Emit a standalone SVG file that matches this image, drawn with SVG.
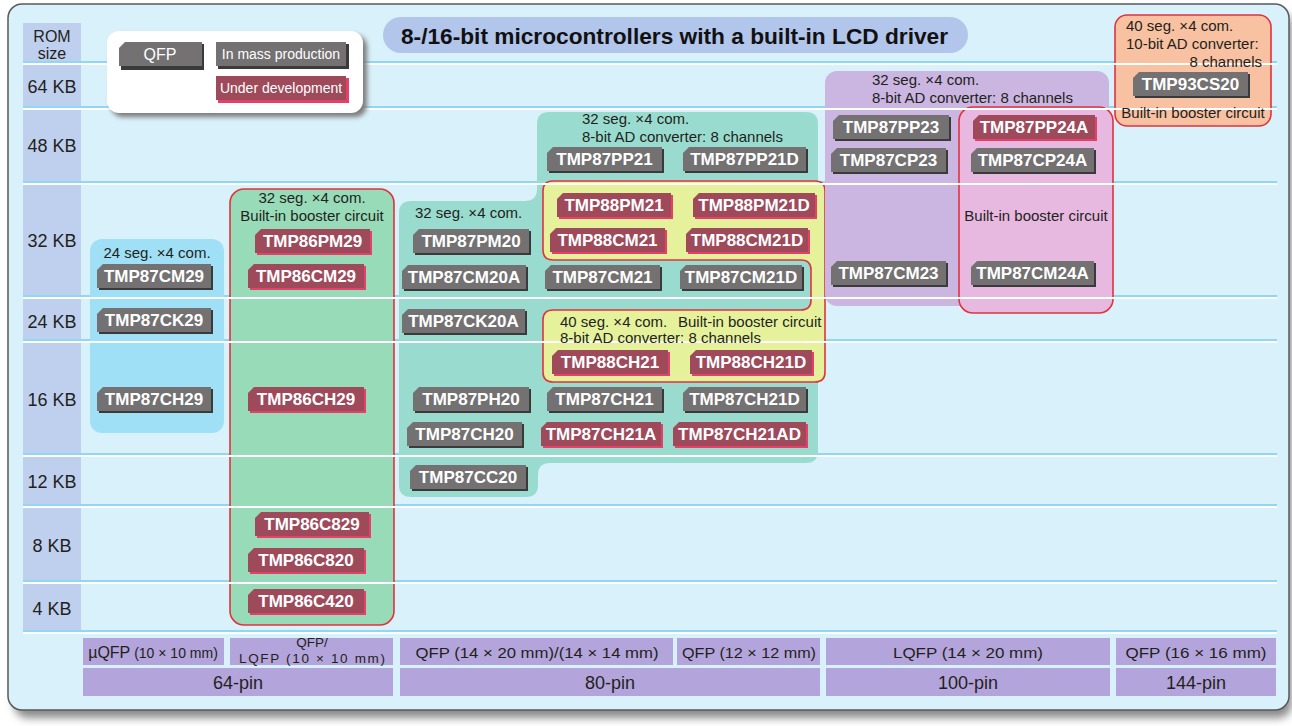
<svg xmlns="http://www.w3.org/2000/svg" width="1292" height="726" viewBox="0 0 1292 726">
<defs>
<filter id="blur6" x="-5%" y="-5%" width="110%" height="115%"><feGaussianBlur stdDeviation="4"/></filter>
<filter id="blur3" x="-10%" y="-20%" width="120%" height="150%"><feGaussianBlur stdDeviation="2.5"/></filter>
<style>
text{font-family:"Liberation Sans",Arial,sans-serif}
.gm{fill:#737171}.gs{fill:#3b3a3a}
.rm{fill:#9e4a5b}.rs{fill:#e4406a}
.bt{font-size:17px;font-weight:bold;fill:#fff;text-anchor:middle}
.lt{font-size:15px;fill:#231f20}
.rl{fill:#231f20;text-anchor:middle}
.bl{stroke:#8fd7f4;stroke-width:2}
.wl{stroke:#ffffff;stroke-width:2}
.pk{fill:#b3a5db}
.pt{fill:#231f20;text-anchor:middle}
.red{stroke:#e2323c;stroke-width:1.6}
.lg{font-size:14px;fill:#fff;text-anchor:middle}
</style>
</defs>
<rect width="1292" height="726" fill="#ffffff"/>
<rect x="14" y="12" width="1278" height="706" rx="14" fill="#8a8a8a" filter="url(#blur6)"/>
<rect x="8" y="4" width="1281" height="706" rx="14" fill="#d9f1fa" stroke="#5a5a5a" stroke-width="1.5"/>

<g id="row-labels">
<rect x="23" y="23" width="58" height="608" fill="#bfd0ee"/>
<text class="rl" x="52" y="42" style="font-size:16px">ROM</text>
<text class="rl" x="52" y="59" style="font-size:16px">size</text>
<text class="rl" x="52" y="93" style="font-size:18px">64 KB</text>
<text class="rl" x="52" y="152" style="font-size:18px">48 KB</text>
<text class="rl" x="52" y="247" style="font-size:18px">32 KB</text>
<text class="rl" x="52" y="328" style="font-size:18px">24 KB</text>
<text class="rl" x="52" y="406" style="font-size:18px">16 KB</text>
<text class="rl" x="52" y="488" style="font-size:18px">12 KB</text>
<text class="rl" x="52" y="552" style="font-size:18px">8 KB</text>
<text class="rl" x="52" y="615" style="font-size:18px">4 KB</text>
</g>

<g id="blue-lines" class="bl">
<line x1="23" y1="62" x2="1277" y2="62"/>
<line x1="23" y1="107" x2="1277" y2="107"/>
<line x1="23" y1="182" x2="1277" y2="182"/>
<line x1="23" y1="296" x2="1277" y2="296"/>
<line x1="23" y1="340" x2="1277" y2="340"/>
<line x1="23" y1="454" x2="1277" y2="454"/>
<line x1="23" y1="505" x2="1277" y2="505"/>
<line x1="23" y1="581" x2="1277" y2="581"/>
<line x1="23" y1="631" x2="1277" y2="631"/>
</g>

<g id="title">
<rect x="383" y="17" width="585" height="36" rx="18" fill="#b2c5eb"/>
<text x="401" y="44" font-size="22" font-weight="bold" fill="#111" textLength="547" lengthAdjust="spacingAndGlyphs">8-/16-bit microcontrollers with a built-in LCD driver</text>
</g>

<g id="groups">
<rect id="grp-24seg" x="90" y="239" width="134" height="194" rx="12" fill="#a0e0f6"/>
<rect id="grp-64pin-lqfp" class="red" x="230" y="189" width="164" height="436" rx="14" fill="#98dbb8"/>
<path id="grp-80pin-qfp" d="M549,112 H806 Q818,112 818,124 V451 Q818,463 806,463 H550 Q538,463 538,475 V485 Q538,497 526,497 H411 Q399,497 399,485 V213 Q399,201 411,201 H525 Q537,201 537,189 V124 Q537,112 549,112 Z" fill="#99dccf"/>
<path id="grp-88-series" class="red" d="M553,181 H815 Q825,181 825,191 V372 Q825,382 815,382 H553 Q543,382 543,372 V320 Q543,310 553,310 H801 Q811,310 811,300 V270 Q811,260 801,260 H553 Q543,260 543,250 V191 Q543,181 553,181 Z" fill="#e6f19c"/>
<rect id="grp-100pin" x="825" y="71" width="284" height="235" rx="12" fill="#cab6e0"/>
<rect id="grp-100pin-booster" class="red" x="959" y="107" width="154" height="206" rx="14" fill="#e8b9e0"/>
<rect id="grp-144pin" class="red" x="1115" y="15" width="156" height="111" rx="12" fill="#f8c1a1"/>
</g>

<g id="white-lines" class="wl">
<line x1="23" y1="64" x2="1277" y2="64"/>
<line x1="23" y1="109" x2="1277" y2="109"/>
<line x1="23" y1="184" x2="1277" y2="184"/>
<line x1="23" y1="298" x2="1277" y2="298"/>
<line x1="23" y1="342" x2="1277" y2="342"/>
<line x1="23" y1="456" x2="1277" y2="456"/>
<line x1="23" y1="507" x2="1277" y2="507"/>
<line x1="23" y1="583" x2="1277" y2="583"/>
<line x1="23" y1="633" x2="1277" y2="633"/>
</g>

<g id="legend">
<rect x="111" y="35" width="256" height="82" rx="12" fill="#7a7a7a" filter="url(#blur3)"/>
<rect x="107" y="31" width="256" height="82" rx="12" fill="#ffffff"/>
<polygon class="gs" points="127,44 204,44 204,70 121,70 121,50"/>
<polygon class="gm" points="125,42 202,42 202,66 119,66 119,48"/>
<text class="lg" x="160" y="60" style="font-size:16px">QFP</text>
<rect x="218" y="44" width="131" height="25" fill="#3b3a3a"/>
<rect x="216" y="42" width="130" height="24" fill="#737171"/>
<text class="lg" x="281" y="59">In mass production</text>
<rect x="218" y="78" width="131" height="25" fill="#e4406a"/>
<rect x="216" y="76" width="130" height="24" fill="#9e4a5b"/>
<text class="lg" x="281" y="93">Under development</text>
</g>

<g id="group-labels">
<text class="lt" x="157" y="258" text-anchor="middle">24 seg. ×4 com.</text>
<text class="lt" x="312" y="203" text-anchor="middle">32 seg. ×4 com.</text>
<text class="lt" x="312" y="221" text-anchor="middle">Built-in booster circuit</text>
<text class="lt" x="415" y="218">32 seg. ×4 com.</text>
<text class="lt" x="582" y="124">32 seg. ×4 com.</text>
<text class="lt" x="582" y="142">8-bit AD converter: 8 channels</text>
<text class="lt" x="560" y="327">40 seg. ×4 com.<tspan x="678">Built-in booster circuit</tspan></text>
<text class="lt" x="560" y="343">8-bit AD converter: 8 channels</text>
<text class="lt" x="872" y="85">32 seg. ×4 com.</text>
<text class="lt" x="872" y="103">8-bit AD converter: 8 channels</text>
<text class="lt" x="1036" y="221" text-anchor="middle">Built-in booster circuit</text>
<text class="lt" x="1126" y="31">40 seg. ×4 com.</text>
<text class="lt" x="1126" y="49">10-bit AD converter:</text>
<text class="lt" x="1262" y="67" text-anchor="end">8 channels</text>
<text class="lt" x="1193" y="118" text-anchor="middle">Built-in booster circuit</text>
</g>

<g id="n1" transform="translate(97,264)"><polygon class="gs" points="8,2 116,2 116,26 2,26 2,8"/><polygon class="gm" points="6,0 114,0 114,24 0,24 0,6"/><text class="bt" x="57" y="18">TMP87CM29</text></g>
<g id="n2" transform="translate(97,308)"><polygon class="gs" points="8,2 116,2 116,26 2,26 2,8"/><polygon class="gm" points="6,0 114,0 114,24 0,24 0,6"/><text class="bt" x="57" y="18">TMP87CK29</text></g>
<g id="n3" transform="translate(97,387)"><polygon class="gs" points="8,2 116,2 116,26 2,26 2,8"/><polygon class="gm" points="6,0 114,0 114,24 0,24 0,6"/><text class="bt" x="57" y="18">TMP87CH29</text></g>
<g id="n4" transform="translate(255,229)"><polygon class="rs" points="8,2 117,2 117,26 2,26 2,8"/><polygon class="rm" points="6,0 115,0 115,24 0,24 0,6"/><text class="bt" x="57.5" y="18">TMP86PM29</text></g>
<g id="n5" transform="translate(248,264)"><polygon class="rs" points="8,2 118,2 118,26 2,26 2,8"/><polygon class="rm" points="6,0 116,0 116,24 0,24 0,6"/><text class="bt" x="58" y="18">TMP86CM29</text></g>
<g id="n6" transform="translate(248,387)"><polygon class="rs" points="8,2 118,2 118,26 2,26 2,8"/><polygon class="rm" points="6,0 116,0 116,24 0,24 0,6"/><text class="bt" x="58" y="18">TMP86CH29</text></g>
<g id="n7" transform="translate(255,512)"><polygon class="rs" points="8,2 116,2 116,26 2,26 2,8"/><polygon class="rm" points="6,0 114,0 114,24 0,24 0,6"/><text class="bt" x="57" y="18">TMP86C829</text></g>
<g id="n8" transform="translate(248,548)"><polygon class="rs" points="8,2 118,2 118,26 2,26 2,8"/><polygon class="rm" points="6,0 116,0 116,24 0,24 0,6"/><text class="bt" x="58" y="18">TMP86C820</text></g>
<g id="n9" transform="translate(248,589)"><polygon class="rs" points="8,2 118,2 118,26 2,26 2,8"/><polygon class="rm" points="6,0 116,0 116,24 0,24 0,6"/><text class="bt" x="58" y="18">TMP86C420</text></g>
<g id="n10" transform="translate(547,147)"><polygon class="gs" points="8,2 117,2 117,26 2,26 2,8"/><polygon class="gm" points="6,0 115,0 115,24 0,24 0,6"/><text class="bt" x="57.5" y="18">TMP87PP21</text></g>
<g id="n11" transform="translate(683,147)"><polygon class="gs" points="8,2 125,2 125,26 2,26 2,8"/><polygon class="gm" points="6,0 123,0 123,24 0,24 0,6"/><text class="bt" x="61.5" y="18">TMP87PP21D</text></g>
<g id="n12" transform="translate(557,193)"><polygon class="rs" points="8,2 116,2 116,26 2,26 2,8"/><polygon class="rm" points="6,0 114,0 114,24 0,24 0,6"/><text class="bt" x="57" y="18">TMP88PM21</text></g>
<g id="n13" transform="translate(693,193)"><polygon class="rs" points="8,2 124,2 124,26 2,26 2,8"/><polygon class="rm" points="6,0 122,0 122,24 0,24 0,6"/><text class="bt" x="61" y="18">TMP88PM21D</text></g>
<g id="n14" transform="translate(413,229)"><polygon class="gs" points="8,2 118,2 118,26 2,26 2,8"/><polygon class="gm" points="6,0 116,0 116,24 0,24 0,6"/><text class="bt" x="58" y="18">TMP87PM20</text></g>
<g id="n15" transform="translate(550,228)"><polygon class="rs" points="8,2 117,2 117,26 2,26 2,8"/><polygon class="rm" points="6,0 115,0 115,24 0,24 0,6"/><text class="bt" x="57.5" y="18">TMP88CM21</text></g>
<g id="n16" transform="translate(686,228)"><polygon class="rs" points="8,2 124,2 124,26 2,26 2,8"/><polygon class="rm" points="6,0 122,0 122,24 0,24 0,6"/><text class="bt" x="61" y="18">TMP88CM21D</text></g>
<g id="n17" transform="translate(402,265)"><polygon class="gs" points="8,2 126,2 126,26 2,26 2,8"/><polygon class="gm" points="6,0 124,0 124,24 0,24 0,6"/><text class="bt" x="62" y="18">TMP87CM20A</text></g>
<g id="n18" transform="translate(545,265)"><polygon class="gs" points="8,2 117,2 117,26 2,26 2,8"/><polygon class="gm" points="6,0 115,0 115,24 0,24 0,6"/><text class="bt" x="57.5" y="18">TMP87CM21</text></g>
<g id="n19" transform="translate(680,265)"><polygon class="gs" points="8,2 124,2 124,26 2,26 2,8"/><polygon class="gm" points="6,0 122,0 122,24 0,24 0,6"/><text class="bt" x="61" y="18">TMP87CM21D</text></g>
<g id="n20" transform="translate(402,309)"><polygon class="gs" points="8,2 125,2 125,26 2,26 2,8"/><polygon class="gm" points="6,0 123,0 123,24 0,24 0,6"/><text class="bt" x="61.5" y="18">TMP87CK20A</text></g>
<g id="n21" transform="translate(552,350)"><polygon class="rs" points="8,2 118,2 118,26 2,26 2,8"/><polygon class="rm" points="6,0 116,0 116,24 0,24 0,6"/><text class="bt" x="58" y="18">TMP88CH21</text></g>
<g id="n22" transform="translate(690,350)"><polygon class="rs" points="8,2 124,2 124,26 2,26 2,8"/><polygon class="rm" points="6,0 122,0 122,24 0,24 0,6"/><text class="bt" x="61" y="18">TMP88CH21D</text></g>
<g id="n23" transform="translate(413,387)"><polygon class="gs" points="8,2 118,2 118,26 2,26 2,8"/><polygon class="gm" points="6,0 116,0 116,24 0,24 0,6"/><text class="bt" x="58" y="18">TMP87PH20</text></g>
<g id="n24" transform="translate(547,387)"><polygon class="gs" points="8,2 117,2 117,26 2,26 2,8"/><polygon class="gm" points="6,0 115,0 115,24 0,24 0,6"/><text class="bt" x="57.5" y="18">TMP87CH21</text></g>
<g id="n25" transform="translate(683,387)"><polygon class="gs" points="8,2 125,2 125,26 2,26 2,8"/><polygon class="gm" points="6,0 123,0 123,24 0,24 0,6"/><text class="bt" x="61.5" y="18">TMP87CH21D</text></g>
<g id="n26" transform="translate(407,422)"><polygon class="gs" points="8,2 117,2 117,26 2,26 2,8"/><polygon class="gm" points="6,0 115,0 115,24 0,24 0,6"/><text class="bt" x="57.5" y="18">TMP87CH20</text></g>
<g id="n27" transform="translate(541,422)"><polygon class="rs" points="8,2 122,2 122,26 2,26 2,8"/><polygon class="rm" points="6,0 120,0 120,24 0,24 0,6"/><text class="bt" x="60" y="18">TMP87CH21A</text></g>
<g id="n28" transform="translate(673,422)"><polygon class="rs" points="8,2 135,2 135,26 2,26 2,8"/><polygon class="rm" points="6,0 133,0 133,24 0,24 0,6"/><text class="bt" x="66.5" y="18">TMP87CH21AD</text></g>
<g id="n29" transform="translate(410,465)"><polygon class="gs" points="8,2 118,2 118,26 2,26 2,8"/><polygon class="gm" points="6,0 116,0 116,24 0,24 0,6"/><text class="bt" x="58" y="18">TMP87CC20</text></g>
<g id="n30" transform="translate(833,115)"><polygon class="gs" points="8,2 118,2 118,26 2,26 2,8"/><polygon class="gm" points="6,0 116,0 116,24 0,24 0,6"/><text class="bt" x="58" y="18">TMP87PP23</text></g>
<g id="n31" transform="translate(831,148)"><polygon class="gs" points="8,2 117,2 117,26 2,26 2,8"/><polygon class="gm" points="6,0 115,0 115,24 0,24 0,6"/><text class="bt" x="57.5" y="18">TMP87CP23</text></g>
<g id="n32" transform="translate(831,261)"><polygon class="gs" points="8,2 117,2 117,26 2,26 2,8"/><polygon class="gm" points="6,0 115,0 115,24 0,24 0,6"/><text class="bt" x="57.5" y="18">TMP87CM23</text></g>
<g id="n33" transform="translate(973,115)"><polygon class="rs" points="8,2 124,2 124,26 2,26 2,8"/><polygon class="rm" points="6,0 122,0 122,24 0,24 0,6"/><text class="bt" x="61" y="18">TMP87PP24A</text></g>
<g id="n34" transform="translate(971,148)"><polygon class="gs" points="8,2 125,2 125,26 2,26 2,8"/><polygon class="gm" points="6,0 123,0 123,24 0,24 0,6"/><text class="bt" x="61.5" y="18">TMP87CP24A</text></g>
<g id="n35" transform="translate(971,261)"><polygon class="gs" points="8,2 125,2 125,26 2,26 2,8"/><polygon class="gm" points="6,0 123,0 123,24 0,24 0,6"/><text class="bt" x="61.5" y="18">TMP87CM24A</text></g>
<g id="n36" transform="translate(1133,72)"><polygon class="gs" points="8,2 117,2 117,26 2,26 2,8"/><polygon class="gm" points="6,0 115,0 115,24 0,24 0,6"/><text class="bt" x="57.5" y="18">TMP93CS20</text></g>

<g id="packages">
<rect class="pk" x="83" y="638" width="141" height="27"/>
<rect class="pk" x="230" y="638" width="163" height="27"/>
<rect class="pk" x="400" y="638" width="273" height="27"/>
<rect class="pk" x="677" y="638" width="143" height="27"/>
<rect class="pk" x="826" y="638" width="284" height="27"/>
<rect class="pk" x="1116" y="638" width="160" height="27"/>
<text class="pt" x="153" y="658"><tspan style="font-size:16px">µQFP</tspan><tspan style="font-size:14px"> (10 × 10 mm)</tspan></text>
<text class="pt" x="312" y="647" style="font-size:13.5px">QFP/</text>
<text class="pt" x="312" y="663" style="font-size:13.5px" textLength="146" lengthAdjust="spacing">LQFP (10 × 10 mm)</text>
<text class="pt" x="537" y="658" style="font-size:15px" textLength="243" lengthAdjust="spacingAndGlyphs">QFP (14 × 20 mm)/(14 × 14 mm)</text>
<text class="pt" x="749" y="658" style="font-size:15px" textLength="134" lengthAdjust="spacingAndGlyphs">QFP (12 × 12 mm)</text>
<text class="pt" x="968" y="658" style="font-size:15px" textLength="150" lengthAdjust="spacingAndGlyphs">LQFP (14 × 20 mm)</text>
<text class="pt" x="1196" y="658" style="font-size:15px" textLength="141" lengthAdjust="spacingAndGlyphs">QFP (16 × 16 mm)</text>
</g>
<g id="pins">
<rect class="pk" x="83" y="668" width="310" height="28"/>
<rect class="pk" x="400" y="668" width="420" height="28"/>
<rect class="pk" x="826" y="668" width="284" height="28"/>
<rect class="pk" x="1116" y="668" width="160" height="28"/>
<text class="pt" x="238" y="689" style="font-size:18px">64-pin</text>
<text class="pt" x="610" y="689" style="font-size:18px">80-pin</text>
<text class="pt" x="968" y="689" style="font-size:18px">100-pin</text>
<text class="pt" x="1196" y="689" style="font-size:18px">144-pin</text>
</g>
<g id="connectors"/>
</svg>
